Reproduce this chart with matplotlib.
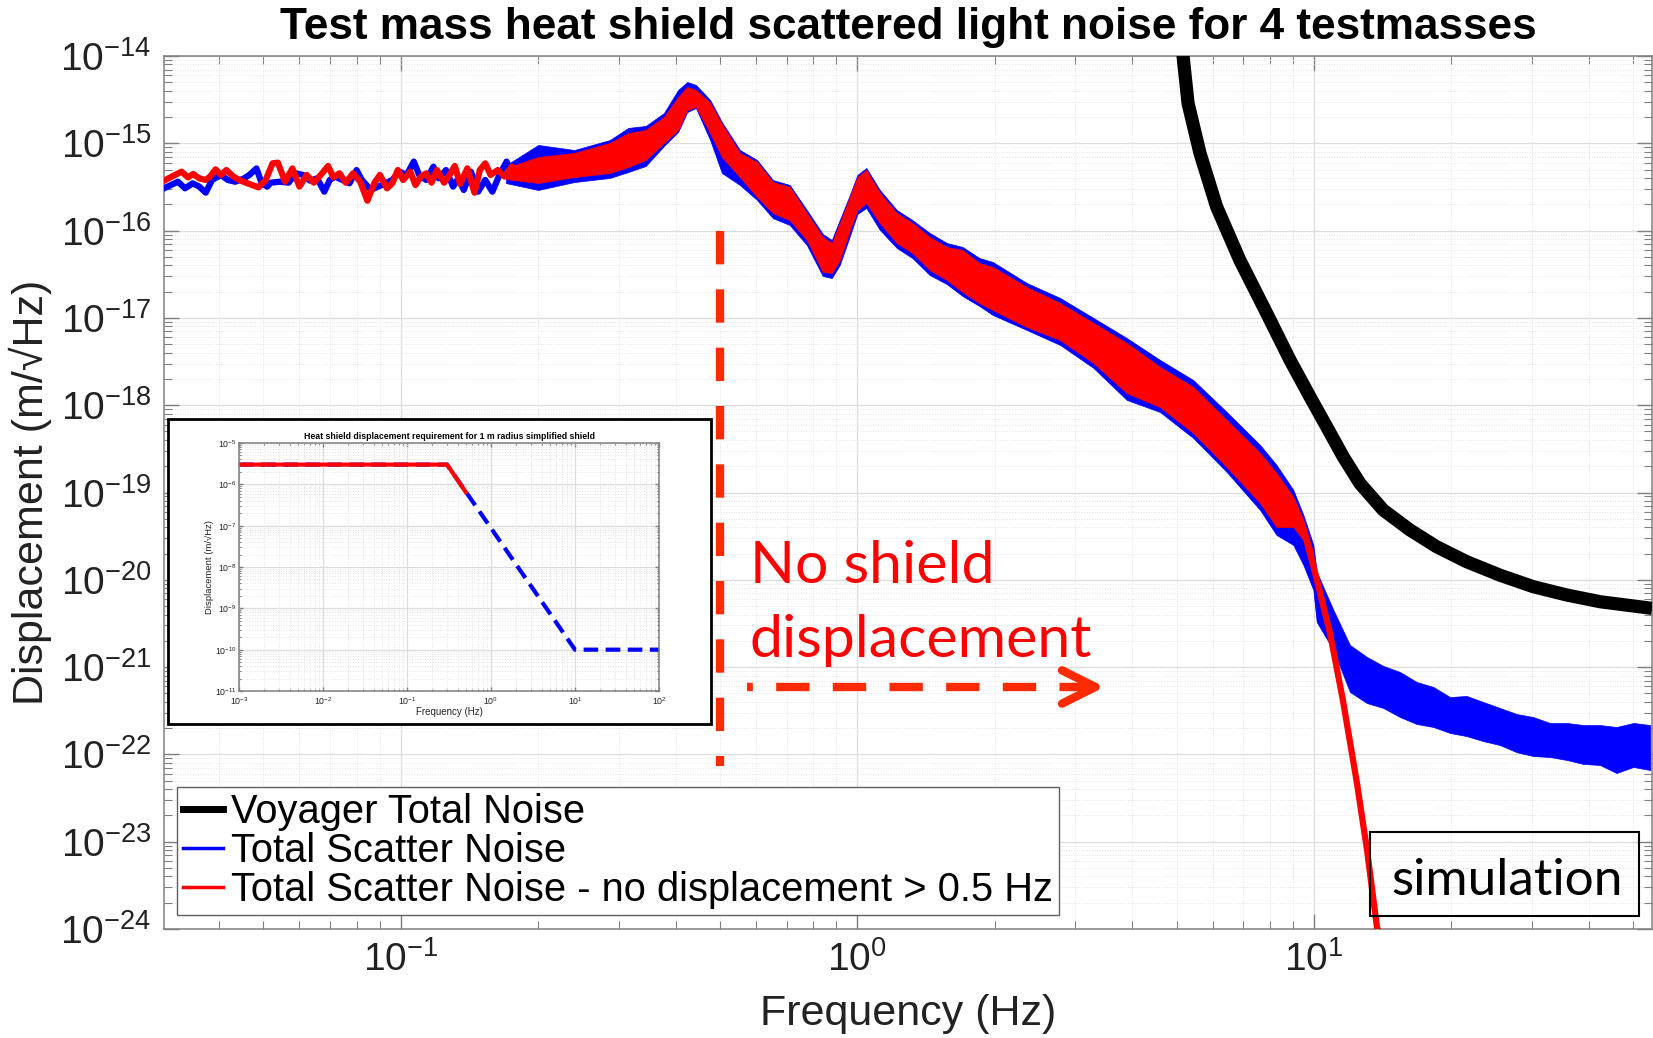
import matplotlib.pyplot as plt
from matplotlib.lines import Line2D
from matplotlib.patches import Rectangle
from matplotlib.ticker import FixedLocator, NullFormatter

plt.rcParams['font.family'] = ['Liberation Sans', 'DejaVu Sans']
plt.rcParams['mathtext.fontset'] = 'custom'
plt.rcParams['mathtext.rm'] = 'Liberation Sans'
plt.rcParams['mathtext.it'] = 'Liberation Sans:italic'
plt.rcParams['mathtext.bf'] = 'Liberation Sans:bold'

# ---- Voyager total noise (m/rtHz) ----
f_voy = [5.13, 5.17, 5.30, 5.63, 6.12, 6.88, 7.88, 8.86, 9.80, 10.66, 11.59, 12.61,
         14.18, 16.23, 18.57, 21.61, 25.55, 30.23, 35.77, 42.32, 55.0]
asd_voy = [1.5e-14, 9.82e-15, 2.87e-15, 7.67e-16, 1.88e-16, 4.60e-17, 1.13e-17,
           3.30e-18, 1.25e-18, 5.67e-19, 2.57e-19, 1.27e-19, 6.30e-20, 3.72e-20,
           2.39e-20, 1.61e-20, 1.13e-20, 8.33e-21, 6.70e-21, 5.61e-21, 4.71e-21]

# ---- total scatter noise, low frequency trace ----
f_blue_low = [0.0303, 0.0314, 0.0325, 0.0337, 0.0350, 0.0362, 0.0374, 0.0386, 0.0404, 0.0418,
              0.0434, 0.0454, 0.0466, 0.0483, 0.0496, 0.0510, 0.0519, 0.0543, 0.0568, 0.0589,
              0.0611, 0.0633, 0.0656, 0.0680, 0.0699, 0.0718, 0.0745, 0.0772, 0.0800, 0.0822,
              0.0860, 0.0892, 0.0925, 0.0958, 0.0994, 0.1030, 0.1068, 0.1097, 0.1137, 0.1179,
              0.1211, 0.1256, 0.1302, 0.1337, 0.1374, 0.1424, 0.1477, 0.1531, 0.1587, 0.1645,
              0.1705, 0.1752, 0.1800, 0.1866, 0.1934, 0.1988, 0.2042]
asd_blue_low = [3.05e-16, 3.33e-16, 3.63e-16, 3.05e-16, 3.48e-16, 3.19e-16, 2.72e-16, 3.80e-16, 4.34e-16, 3.80e-16,
                3.63e-16, 3.97e-16, 4.34e-16, 5.16e-16, 3.48e-16, 3.19e-16, 3.54e-16, 3.63e-16, 3.54e-16, 4.53e-16,
                4.34e-16, 3.73e-16, 3.97e-16, 2.79e-16, 3.80e-16, 4.15e-16, 3.80e-16, 3.48e-16, 4.94e-16, 3.80e-16,
                2.92e-16, 3.19e-16, 3.48e-16, 3.80e-16, 4.73e-16, 4.34e-16, 6.17e-16, 4.34e-16, 3.80e-16, 5.40e-16,
                3.97e-16, 4.94e-16, 3.19e-16, 3.97e-16, 2.92e-16, 4.73e-16, 2.79e-16, 3.80e-16, 2.79e-16, 4.34e-16,
                6.17e-16, 4.34e-16, 5.40e-16, 3.80e-16, 4.53e-16, 7.16e-16, 4.53e-16]

# ---- scatter noise with no shield displacement above 0.5 Hz, low frequency trace ----
f_red_low = [0.0303, 0.0317, 0.0331, 0.0342, 0.0351, 0.0362, 0.0374, 0.0382, 0.0393, 0.0404,
             0.0415, 0.0430, 0.0446, 0.0466, 0.0488, 0.0506, 0.0524, 0.0538, 0.0558, 0.0579,
             0.0600, 0.0622, 0.0645, 0.0668, 0.0693, 0.0712, 0.0734, 0.0758, 0.0786, 0.0815,
             0.0845, 0.0876, 0.0900, 0.0933, 0.0958, 0.0985, 0.1012, 0.1049, 0.1077, 0.1107,
             0.1137, 0.1168, 0.1200, 0.1244, 0.1279, 0.1313, 0.1349, 0.1399, 0.1450, 0.1490,
             0.1531, 0.1573, 0.1631, 0.1690, 0.1752, 0.1816, 0.1883, 0.1952, 0.2024]
asd_red_low = [3.73e-16, 4.22e-16, 4.73e-16, 4.07e-16, 4.45e-16, 3.97e-16, 3.80e-16, 4.15e-16, 5.03e-16, 4.34e-16,
               4.94e-16, 4.15e-16, 3.73e-16, 3.42e-16, 3.13e-16, 3.80e-16, 5.90e-16, 6.00e-16, 3.63e-16, 5.16e-16,
               3.19e-16, 4.34e-16, 3.54e-16, 4.34e-16, 5.50e-16, 4.07e-16, 4.53e-16, 3.54e-16, 4.53e-16, 3.63e-16,
               2.20e-16, 3.54e-16, 4.34e-16, 3.05e-16, 3.48e-16, 4.94e-16, 3.80e-16, 4.73e-16, 3.33e-16, 4.15e-16,
               4.53e-16, 3.54e-16, 4.94e-16, 3.54e-16, 4.34e-16, 5.50e-16, 3.42e-16, 5.16e-16, 2.72e-16, 4.94e-16,
               5.90e-16, 4.34e-16, 4.94e-16, 4.15e-16, 5.40e-16, 4.34e-16, 5.16e-16, 4.15e-16, 5.50e-16]

# ---- dense part of the spectra: upper / lower envelope of the noisy trace ----
f_band = [0.170, 0.200, 0.240, 0.287, 0.315, 0.344, 0.377, 0.405, 0.424, 0.443, 0.476,
          0.505, 0.553, 0.603, 0.653, 0.711, 0.775, 0.840, 0.879, 0.915, 0.963,
          1.00, 1.046, 1.12, 1.22, 1.32, 1.44, 1.57, 1.70, 1.85, 1.98,
          2.35, 2.78, 3.29, 3.89, 4.60, 5.44, 6.44, 7.62, 8.28, 9.01,
          9.48, 9.97]
red_hi = [5.2e-16, 6.96e-16, 7.74e-16, 1.01e-15, 1.31e-15, 1.42e-15, 2.00e-15, 3.39e-15, 4.42e-15, 4.08e-15, 2.90e-15,
          1.66e-15, 7.74e-16, 6.11e-16, 3.60e-16, 3.16e-16, 1.59e-16, 8.45e-17, 7.21e-17, 1.22e-16, 2.43e-16,
          4.11e-16, 4.95e-16, 2.70e-16, 1.59e-16, 1.22e-16, 8.45e-17, 6.49e-17, 6.00e-17, 4.25e-17, 3.83e-17,
          2.26e-17, 1.48e-17, 8.75e-18, 5.16e-18, 2.74e-18, 1.62e-18, 6.76e-19, 2.83e-19, 1.67e-19, 8.87e-20,
          4.84e-20, 2.03e-20]
red_lo = [3.9e-16, 3.51e-16, 4.11e-16, 4.57e-16, 5.35e-16, 6.44e-16, 1.01e-15, 1.42e-15, 2.41e-15, 2.61e-15, 1.31e-15,
          6.96e-16, 4.11e-16, 2.43e-16, 1.59e-16, 1.32e-16, 7.80e-17, 3.36e-17, 3.27e-17, 4.60e-17, 1.02e-16,
          1.72e-16, 2.07e-16, 1.22e-16, 7.21e-17, 5.54e-17, 3.54e-17, 2.72e-17, 1.98e-17, 1.48e-17, 1.23e-17,
          7.87e-18, 5.58e-18, 3.04e-18, 1.38e-18, 9.53e-19, 4.81e-19, 1.96e-19, 7.58e-20, 4.03e-20, 4.03e-20,
          2.86e-20, 1.08e-20]

f_band_blue = f_band + [10.14, 11.03, 11.99, 13.05, 14.19, 15.43, 16.79, 18.26, 19.86, 21.6,
                        23.49, 25.55, 27.8, 30.2, 32.9, 35.8, 38.9, 42.3, 46.0, 50.1,
                        54.5]
blue_hi = [5.6e-16, 9.57e-16, 8.38e-16, 1.09e-15, 1.50e-15, 1.58e-15, 2.22e-15, 4.08e-15, 5.04e-15, 4.66e-15, 3.13e-15,
           1.75e-15, 8.38e-16, 6.44e-16, 3.80e-16, 3.33e-16, 1.72e-16, 9.14e-17, 7.80e-17, 1.32e-16, 2.56e-16,
           4.33e-16, 5.21e-16, 2.92e-16, 1.72e-16, 1.32e-16, 9.40e-17, 7.21e-17, 6.49e-17, 4.85e-17, 4.37e-17,
           2.51e-17, 1.69e-17, 9.97e-18, 5.88e-18, 3.30e-18, 1.94e-18, 8.36e-19, 3.50e-19, 2.07e-19, 1.07e-19,
           5.52e-20, 2.51e-20,
           1.23e-20, 4.51e-21, 1.79e-21, 1.31e-21, 1.03e-21, 8.79e-22, 6.75e-22, 5.92e-22, 4.54e-22, 4.67e-22,
           3.98e-22, 3.40e-22, 2.90e-22, 2.68e-22, 2.29e-22, 2.29e-22, 2.17e-22, 2.17e-22, 2.06e-22, 2.29e-22,
           2.17e-22]
blue_lo = [3.5e-16, 2.92e-16, 3.60e-16, 4.01e-16, 4.69e-16, 5.50e-16, 9.31e-16, 1.35e-15, 2.28e-15, 2.54e-15, 1.09e-15,
           4.57e-16, 3.33e-16, 2.24e-16, 1.39e-16, 1.16e-16, 6.84e-17, 3.02e-17, 2.86e-17, 4.04e-17, 8.67e-17,
           1.55e-16, 1.82e-16, 1.02e-16, 6.32e-17, 4.85e-17, 3.10e-17, 2.44e-17, 1.78e-17, 1.37e-17, 1.08e-17,
           7.27e-18, 4.90e-18, 2.67e-18, 1.15e-18, 8.36e-19, 4.21e-19, 1.72e-19, 6.31e-20, 3.26e-20, 2.51e-20,
           1.48e-20, 7.64e-21,
           3.29e-21, 1.57e-21, 5.19e-22, 3.88e-22, 3.40e-22, 2.68e-22, 2.23e-22, 2.06e-22, 1.76e-22, 1.62e-22,
           1.42e-22, 1.28e-22, 1.06e-22, 9.58e-23, 9.33e-23, 8.63e-23, 7.77e-23, 7.57e-23, 6.12e-23, 7.18e-23,
           6.62e-23]

# red trace rolls off once the shield stops moving
f_red_tail = [9.48, 9.97, 10.84, 11.57, 12.42, 13.07, 13.74, 13.8]
asd_red_tail = [3.8e-20, 1.45e-20, 2.46e-21, 4.20e-22, 4.70e-23, 8.0e-24, 1.05e-24, 1.0e-24]

labels = ['Voyager Total Noise', 'Total Scatter Noise',
          'Total Scatter Noise - no displacement > 0.5 Hz']

# ---- inset: shield displacement requirement ----
req_f = [1e-3, 0.3, 10, 100]
req_asd = [3e-6, 3e-6, 1e-10, 1e-10]
cut_f = [1e-3, 0.3, 0.5]
cut_asd = [3e-6, 3e-6, 6.5e-7]

BLUE = '#0000ff'
RED = '#ff0000'
ANNOT = '#ff2a00'
W, H = 1653, 1038


def fx(px):
    return px / W


def fy(py):
    return 1 - py / H


def decade_ticks(lo, hi):
    major = [10.0 ** e for e in range(lo, hi + 1)]
    minor = [m * 10.0 ** e for e in range(lo - 1, hi + 1) for m in range(2, 10)]
    return major, minor


def style_log_axes(a, xdec, ydec, size, length, pad):
    a.set_xscale('log')
    a.set_yscale('log')
    for axis, dec in ((a.xaxis, xdec), (a.yaxis, ydec)):
        major, minor = decade_ticks(*dec)
        axis.set_major_locator(FixedLocator(major))
        axis.set_minor_locator(FixedLocator(minor))
        axis.set_minor_formatter(NullFormatter())
    a.grid(True, which='major', color='#dcdcdc', lw=0.9)
    a.grid(True, which='minor', color='#e3e3e3', lw=0.7, ls=':')
    a.set_axisbelow(True)
    a.tick_params(which='both', direction='in', top=True, right=True,
                  color='#808080', labelcolor='#222222', labelsize=size, pad=pad)
    a.tick_params(which='major', length=length, width=1)
    a.tick_params(which='minor', length=length * 0.55, width=0.8)
    for s in a.spines.values():
        s.set_color('#808080')
        s.set_linewidth(1.1)


fig = plt.figure(figsize=(W / 100, H / 100), dpi=100)
ax = fig.add_axes([fx(164), fy(929), (1652 - 164) / W, (929 - 56) / H])
style_log_axes(ax, (-1, 1), (-24, -14), 28, 11, 9)
ax.set_xlim(0.0303, 55.0)
ax.set_ylim(1e-24, 1e-14)

ax.plot(f_voy, asd_voy, color='k', lw=9.5, solid_capstyle='butt', zorder=3)
ax.plot(f_blue_low, asd_blue_low, color=BLUE, lw=4.5, zorder=4)
ax.fill_between(f_band_blue, blue_lo, blue_hi, color=BLUE, lw=0.5, zorder=4)
ax.plot(f_red_low, asd_red_low, color=RED, lw=4.5, zorder=5)
ax.fill_between(f_band, red_lo, red_hi, color=RED, lw=0.5, zorder=5)
ax.plot(f_red_tail, asd_red_tail, color=RED, lw=4.5, zorder=5)

ax.set_title('Test mass heat shield scattered light noise for 4 testmasses',
             fontsize=31.8, fontweight='bold', pad=12)
ax.set_xlabel('Frequency (Hz)', fontsize=31, color='#222222')
ax.xaxis.set_label_coords(0.5, (929 - 994) / 873)
ax.set_ylabel('Displacement (m/\u221aHz)', fontsize=31, color='#222222')
ax.yaxis.set_label_coords((52 - 164) / 1488, 0.5)

handles = [Line2D([], [], color='k', lw=5),
           Line2D([], [], color=BLUE, lw=2.5),
           Line2D([], [], color=RED, lw=2.5)]
leg = ax.legend(handles, labels, loc='lower left',
                bbox_to_anchor=((177 - 164) / 1488, (929 - 915) / 873),
                borderaxespad=0, fontsize=28.7, fancybox=False, framealpha=1,
                edgecolor='#606060', handlelength=1.0, handletextpad=0.2,
                borderpad=0.15, labelspacing=0.02)
leg.get_frame().set_linewidth(1)
leg.set_zorder(10)

# shield displacement cut-off at 0.5 Hz
ax.plot([0.5, 0.5], [1e-16, 7.4e-23], color=ANNOT, lw=6, dashes=(4.0, 3.0), zorder=6)
ax.plot([0.573, 3.0], [5.92e-22, 5.92e-22], color=ANNOT, lw=6,
        linestyle=(3.3, (4.0, 2.8)), zorder=6)
ax.annotate('', xy=(3.48, 5.92e-22), xytext=(2.95, 5.92e-22),
            arrowprops=dict(arrowstyle='->,head_length=1.2,head_width=0.6',
                            color=ANNOT, lw=6, mutation_scale=20,
                            capstyle='round', joinstyle='round',
                            shrinkA=0, shrinkB=0), zorder=6)

fig.text(fx(750), fy(583), 'No shield', color=RED, fontsize=42.5, family='Lato', va='baseline')
fig.text(fx(750), fy(657), 'displacement', color=RED, fontsize=42.5, family='Lato', va='baseline')

fig.add_artist(Rectangle((fx(1370), fy(916)), 269 / W, 84 / H, transform=fig.transFigure,
                         fill=False, ec='k', lw=1.5, zorder=8))
fig.text(fx(1391), fy(895), 'simulation', fontsize=37, family='Lato', va='baseline', zorder=9)

# inset with the displacement requirement
fig.add_artist(Rectangle((fx(168), fy(724)), (711 - 168) / W, (724 - 419) / H,
                         transform=fig.transFigure, fc='white', ec='k', lw=2, zorder=2))
iax = fig.add_axes([fx(239), fy(691), (659 - 239) / W, (691 - 443) / H])
iax.set_zorder(3)
style_log_axes(iax, (-3, 2), (-11, -5), 6.3, 3, 1.5)
iax.tick_params(axis='x', pad=2.8)
iax.set_xlim(1e-3, 1e2)
iax.set_ylim(1e-11, 1e-5)
iax.plot(req_f, req_asd, color=BLUE, lw=3, dashes=(3.5, 1.8))
iax.plot(cut_f, cut_asd, color=RED, lw=3)
iax.set_title('Heat shield displacement requirement for 1 m radius simplified shield',
              fontsize=6.3, fontweight='bold', pad=3)
iax.set_xlabel('Frequency (Hz)', fontsize=7, labelpad=0.3, color='#222222')
iax.set_ylabel('Displacement (m/\u221aHz)', fontsize=6.8, labelpad=0.5, color='#222222')

fig.savefig('out.png', dpi=100)
